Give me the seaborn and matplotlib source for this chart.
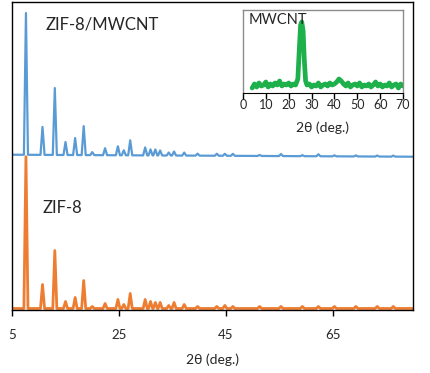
import numpy as np
import pandas as pd
import matplotlib.pyplot as plt
import seaborn as sns

# peak positions (2theta) and heights (pixel-ish units)
peak_pos = [7.6, 10.7, 13.0, 15.0, 16.8, 18.4, 20.0, 22.4, 24.8, 25.9, 27.1,
            29.9, 30.9, 31.8, 32.7, 34.3, 35.3, 37.2, 39.7, 43.3, 44.8, 46.3,
            51.3, 55.3, 59.3, 62.3, 65.3, 69.3, 73.3, 76.3]
zif8_height = [152, 24, 58, 7, 11, 28, 2, 5, 9, 4, 15,
               9, 7, 6, 6, 3, 6, 4, 2, 2, 3, 2,
               2, 2, 2, 2, 2, 2, 2, 2]
composite_height = [142, 28, 67, 13, 17, 29, 3, 7, 9, 5, 15,
                    8, 6, 6, 5, 3, 4, 3, 2, 2, 2, 2,
                    1, 2, 1, 2, 1, 1, 1, 1]
composite_base_start = 154
composite_base_end = 152

# MWCNT inset trace
mwcnt_x = [4, 5, 6, 7, 8, 9, 10, 11, 12, 13, 14, 15, 16, 17, 18, 19, 20, 21, 22,
           23, 24, 24.6, 25.2, 25.7, 26.3, 26.8, 27.4, 28, 29, 30, 31, 32, 33, 34,
           35, 36, 37, 38, 39, 40, 41, 42, 43, 44, 45, 46, 47, 48, 49, 50, 51, 52,
           53, 54, 55, 56, 57, 58, 59, 60, 61, 62, 63, 64, 65, 66, 67, 68, 69, 70]
mwcnt_y = [5, 9, 6, 10, 7, 8, 11, 6, 9, 7, 10, 8, 12, 7, 9, 8, 10, 7, 9,
           8, 14, 42, 68, 71, 62, 34, 12, 8, 9, 6, 8, 7, 10, 6, 8, 9, 7, 10, 8, 9,
           11, 14, 12, 9, 7, 10, 6, 8, 9, 7, 10, 6, 8, 7, 9, 6, 8, 11, 7,
           9, 6, 8, 7, 10, 6, 8, 9, 5, 9, 7]


def stick_profile(pos, height, base0, base1, hw=0.38):
    xs, ys = [5.0], [base0]
    for p, h in zip(pos, height):
        b = base0 + (base1 - base0) * (p - 5) / 75
        xs += [p - hw, p, p + hw]
        ys += [b, b + h, b]
    xs.append(80.0)
    ys.append(base1)
    return pd.DataFrame({'x': xs, 'y': ys})


sns.set_style("white")
plt.rcParams['font.family'] = ['Lato', 'DejaVu Sans']

fig = plt.figure(figsize=(4.3, 3.73), dpi=100)
ax = fig.add_axes([0.028, 0.169, 0.9326, 0.8257])

zif8 = stick_profile(peak_pos, zif8_height, 0, 0)
comp = stick_profile(peak_pos, composite_height, composite_base_start, composite_base_end)
sns.lineplot(data=zif8, x='x', y='y', ax=ax, color='#ED7D31', lw=2.0)
sns.lineplot(data=comp, x='x', y='y', ax=ax, color='#5B9BD5', lw=1.6)

ax.set_xlim(5, 80)
ax.set_ylim(-1.5, 307)
ax.set_xticks([5, 25, 45, 65])
ax.set_yticks([])
ax.set_ylabel('')
ax.set_xlabel('2θ (deg.)', fontsize=10, color='#262626', labelpad=9)
ax.tick_params(axis='x', direction='out', length=4, width=1, color='black',
               labelsize=9.5, labelcolor='#262626', pad=9.5, bottom=True)
for s in ax.spines.values():
    s.set_color('black')
    s.set_linewidth(1)

ax.text(11.2, 284, 'ZIF-8/MWCNT', fontsize=12, color='#262626', va='center')
ax.text(10.8, 101, 'ZIF-8', fontsize=12, color='#262626', va='center')

# inset
ins = fig.add_axes([0.5651, 0.7507, 0.3721, 0.2225])
sns.lineplot(x=mwcnt_x, y=mwcnt_y, ax=ins, color='#1DB04B', lw=3.4)
ins.set_xlim(0, 70)
ins.set_ylim(0, 83)
ins.set_xticks(range(0, 71, 10))
ins.set_yticks([])
ins.set_xlabel('2θ (deg.)', fontsize=10, color='#262626', labelpad=7)
ins.tick_params(axis='x', direction='out', length=4, width=1, color='black',
                labelsize=9, labelcolor='#262626', pad=0.5, bottom=True)
for side in ['top', 'left', 'right']:
    ins.spines[side].set_color('#8c8c8c')
    ins.spines[side].set_linewidth(1)
ins.spines['bottom'].set_color('black')
ins.text(2.5, 73, 'MWCNT', fontsize=10.5, color='#262626', va='center')

fig.savefig('out.png', dpi=100)
